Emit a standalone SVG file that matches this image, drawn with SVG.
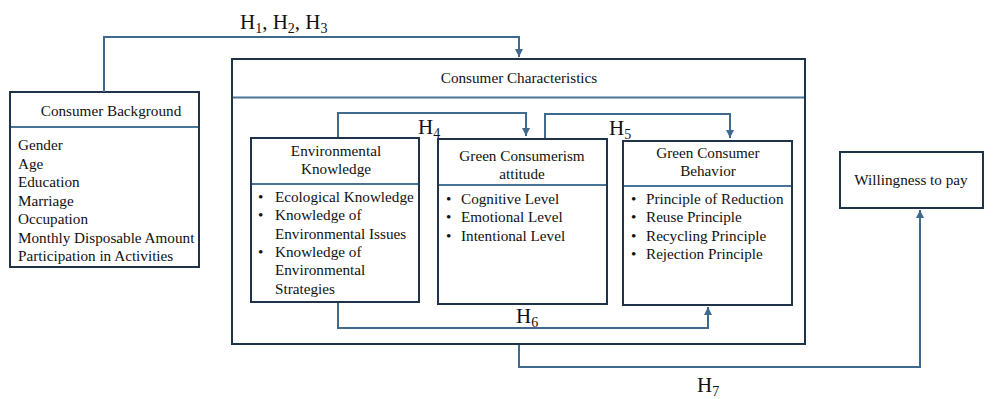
<svg xmlns="http://www.w3.org/2000/svg" width="993" height="399" viewBox="0 0 993 399">
<defs>
<marker id="arr" viewBox="0 0 10 10" refX="10" refY="5" markerWidth="4" markerHeight="4" orient="auto" markerUnits="strokeWidth">
<path d="M0,0 L10,5 L0,10 z" fill="#3f6a8e"/>
</marker>
<style>
.box{fill:#fff;stroke:#1f3448;stroke-width:2}
.div{stroke:#4a7395;stroke-width:2;fill:none}
.con{stroke:#3f6a8e;stroke-width:2;fill:none}
.t{font-family:"Liberation Serif","Times New Roman",serif;font-size:15.2px;fill:#111}
.c{text-anchor:middle}
.h{font-family:"Liberation Serif","Times New Roman",serif;font-size:21px;fill:#111}
.s{font-size:14px}
</style>
</defs>
<rect width="993" height="399" fill="#fff"/>
<g id="consumer-background">
<rect class="box" x="10" y="92" width="189" height="175"/>
<line class="div" x1="11" y1="127" x2="198" y2="127"/>
<text class="t c" x="111" y="116">Consumer Background</text>
<text class="t" x="18" y="150">Gender</text>
<text class="t" x="18" y="168.5">Age</text>
<text class="t" x="18" y="187">Education</text>
<text class="t" x="18" y="205.5">Marriage</text>
<text class="t" x="18" y="224">Occupation</text>
<text class="t" x="18" y="242.5">Monthly Disposable Amount</text>
<text class="t" x="18" y="261">Participation in Activities</text>
</g>
<g id="consumer-characteristics">
<rect class="box" x="232" y="59" width="573" height="285"/>
<line class="div" x1="233" y1="97.5" x2="804" y2="97.5"/>
<text class="t c" x="519" y="83">Consumer Characteristics</text>
</g>
<g id="environmental-knowledge">
<rect class="box" x="251" y="138" width="168" height="164"/>
<line class="div" x1="252" y1="184" x2="418" y2="184"/>
<text class="t c" x="336" y="156">Environmental</text>
<text class="t c" x="336" y="174">Knowledge</text>
<text class="t" x="258" y="202">•</text><text class="t" x="275" y="202">Ecological Knowledge</text>
<text class="t" x="258" y="220">•</text><text class="t" x="275" y="220">Knowledge of</text>
<text class="t" x="275" y="238.5">Environmental Issues</text>
<text class="t" x="258" y="257">•</text><text class="t" x="275" y="257">Knowledge of</text>
<text class="t" x="275" y="275">Environmental</text>
<text class="t" x="275" y="293.5">Strategies</text>
</g>
<g id="green-consumerism-attitude">
<rect class="box" x="438" y="139" width="169" height="165"/>
<line class="div" x1="439" y1="185" x2="606" y2="185"/>
<text class="t c" x="522" y="161">Green Consumerism</text>
<text class="t c" x="522" y="179">attitude</text>
<text class="t" x="446" y="204">•</text><text class="t" x="461" y="204">Cognitive Level</text>
<text class="t" x="446" y="222">•</text><text class="t" x="461" y="222">Emotional Level</text>
<text class="t" x="446" y="240.5">•</text><text class="t" x="461" y="240.5">Intentional Level</text>
</g>
<g id="green-consumer-behavior">
<rect class="box" x="623" y="141" width="169" height="164"/>
<line class="div" x1="624" y1="186" x2="791" y2="186"/>
<text class="t c" x="708" y="158">Green Consumer</text>
<text class="t c" x="708" y="176">Behavior</text>
<text class="t" x="631" y="204">•</text><text class="t" x="646" y="204">Principle of Reduction</text>
<text class="t" x="631" y="222">•</text><text class="t" x="646" y="222">Reuse Principle</text>
<text class="t" x="631" y="240.5">•</text><text class="t" x="646" y="240.5">Recycling Principle</text>
<text class="t" x="631" y="259">•</text><text class="t" x="646" y="259">Rejection Principle</text>
</g>
<g id="willingness-to-pay">
<rect class="box" x="840" y="152" width="143" height="56"/>
<text class="t c" x="911" y="185">Willingness to pay</text>
</g>
<g id="connectors">
<path class="con" d="M104,92 V37 H519 V57" marker-end="url(#arr)"/>
<path class="con" d="M338,137 V113 H526 V136" marker-end="url(#arr)"/>
<path class="con" d="M545,138 V114 H730 V138" marker-end="url(#arr)"/>
<path class="con" d="M338,303 V328 H708 V307" marker-end="url(#arr)"/>
<path class="con" d="M519,345 V367 H920 V210" marker-end="url(#arr)"/>
<text class="h" x="240" y="29">H<tspan class="s" dy="4">1</tspan><tspan dy="-4">, H</tspan><tspan class="s" dy="4">2</tspan><tspan dy="-4">, H</tspan><tspan class="s" dy="4">3</tspan></text>
<text class="h" x="418" y="134">H<tspan class="s" dy="4">4</tspan></text>
<text class="h" x="609" y="135">H<tspan class="s" dy="4">5</tspan></text>
<text class="h" x="516" y="323">H<tspan class="s" dy="4">6</tspan></text>
<text class="h" x="697" y="392">H<tspan class="s" dy="4">7</tspan></text>
</g>
</svg>
